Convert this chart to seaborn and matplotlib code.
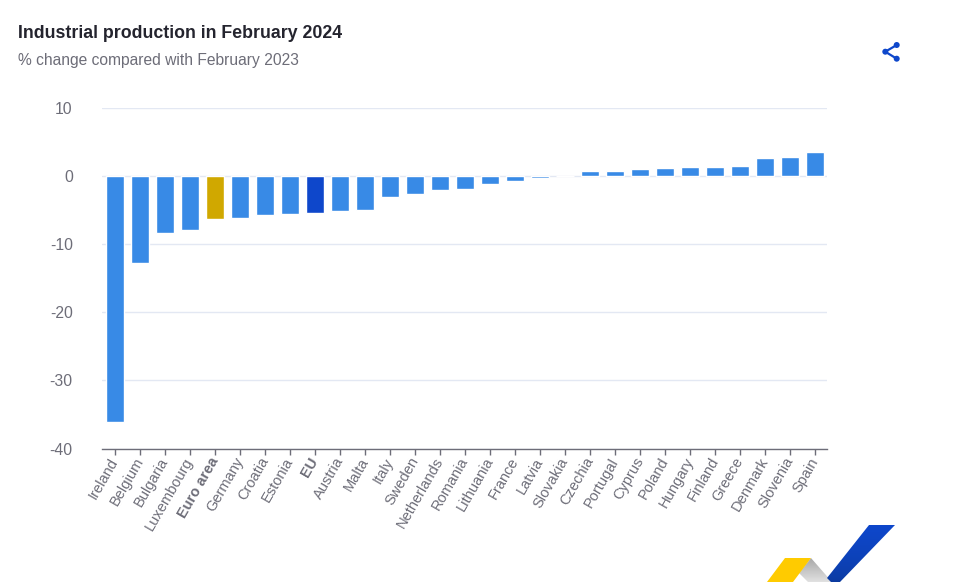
import numpy as np
import pandas as pd
import matplotlib
matplotlib.use("Agg")
import matplotlib.pyplot as plt
from matplotlib.patches import Polygon, Circle
from matplotlib.colors import LinearSegmentedColormap
from matplotlib.transforms import ScaledTranslation
import seaborn as sns

countries = ["Ireland", "Belgium", "Bulgaria", "Luxembourg", "Euro area", "Germany", "Croatia",
             "Estonia", "EU", "Austria", "Malta", "Italy", "Sweden", "Netherlands", "Romania",
             "Lithuania", "France", "Latvia", "Slovakia", "Czechia", "Portugal", "Cyprus", "Poland",
             "Hungary", "Finland", "Greece", "Denmark", "Slovenia", "Spain"]
values = [-36.1, -12.8, -8.4, -7.9, -6.4, -6.2, -5.7, -5.6, -5.4, -5.2, -5.1, -3.1, -2.7, -2.1,
          -2.0, -1.2, -0.8, -0.3, 0.0, 0.7, 0.7, 0.95, 1.15, 1.25, 1.3, 1.45, 2.65, 2.8, 3.5]
yticks = [10, 0, -10, -20, -30, -40]
ytick_labels = ["10", "0", "-10", "-20", "-30", "-40"]
title = "Industrial production in February 2024"
subtitle = "% change compared with February 2023"

BLUE, GOLD, DARK = "#388ae6", "#d0a800", "#0e47cb"
GREY, GRID = "#6d6d78", "#e3e8f3"

sns.set_theme(style="white")
plt.rcParams["font.family"] = ["Liberation Sans", "DejaVu Sans"]

W, H = 974, 582
fig = plt.figure(figsize=(W / 100, H / 100), dpi=100, facecolor="white")
L, R, T, B = 102, 827, 107.5, 448.5
ax = fig.add_axes([L / W, 1 - B / H, (R - L) / W, (B - T) / H])

df = pd.DataFrame({"country": countries, "value": values})
palette = {c: (GOLD if c == "Euro area" else DARK if c == "EU" else BLUE) for c in countries}
sns.barplot(data=df, x="country", y="value", hue="country", palette=palette, legend=False,
            order=countries, width=0.72, saturation=1, ax=ax, zorder=3)

ax.set_xlim(-0.5, len(countries) - 0.5)
ax.set_ylim(-40, 10)
ax.set_yticks(yticks)
ax.set_yticklabels(ytick_labels)
ax.set_xlabel("")
ax.set_ylabel("")
ax.yaxis.grid(True, color=GRID, lw=1)
ax.xaxis.grid(False)
ax.set_axisbelow(True)
for s in ["top", "right", "left"]:
    ax.spines[s].set_visible(False)
ax.spines["bottom"].set_color(GREY)
ax.spines["bottom"].set_linewidth(1)
ax.tick_params(axis="y", length=0, pad=21, labelsize=11.3, labelcolor=GREY)
ax.tick_params(axis="x", length=4, width=1, color=GREY, pad=0, labelsize=10.5, labelcolor=GREY, bottom=True)
ax.set_xticks(range(len(countries)))
ax.set_xticklabels(countries, rotation=60, ha="right", va="top", rotation_mode="anchor")
offset = ScaledTranslation(-5.5 / 100, -1 / 100, fig.dpi_scale_trans)
for t in ax.get_xticklabels():
    t.set_transform(t.get_transform() + offset)
    if t.get_text() in ("Euro area", "EU"):
        t.set_fontweight("bold")

fig.text(18 / W, 1 - 38.5 / H, title, fontsize=12.8, fontweight="bold", color="#24242e", va="baseline")
fig.text(18 / W, 1 - 65.5 / H, subtitle, fontsize=11.25, color=GREY, va="baseline")

# overlay in pixel coordinates: share icon and logo
ov = fig.add_axes([0, 0, 1, 1], zorder=5)
ov.set_xlim(0, W)
ov.set_ylim(H, 0)
ov.axis("off")
ov.patch.set_alpha(0)
ov.plot([896.7, 885.3, 896.7], [45, 51.7, 58.7], color=DARK, lw=1.6)
for cx, cy in [(896.7, 45), (885.3, 51.7), (896.7, 58.7)]:
    ov.add_patch(Circle((cx, cy), 3, color=DARK, lw=0))

ov.add_patch(Polygon([(785, 558), (811, 558), (793, 582), (767, 582)], color="#ffcb00", lw=0))
gray_img = ov.imshow(np.linspace(0.66, 0.88, 64).reshape(-1, 1), extent=(797, 832, 582, 558),
                     cmap="gray", vmin=0, vmax=1, aspect="auto")
gray_img.set_clip_path(Polygon([(811, 558), (799, 573), (808, 582), (832, 582)], transform=ov.transData))
cm = LinearSegmentedColormap.from_list("b", ["#0b3a9e", DARK])
blue_img = ov.imshow(np.linspace(1, 0, 64).reshape(-1, 1) ** 0.6, extent=(825, 896, 582, 525),
                     cmap=cm, aspect="auto")
blue_img.set_clip_path(Polygon([(869, 525), (895, 525), (840, 582), (831, 582), (827, 578)], transform=ov.transData))
ov.set_xlim(0, W)
ov.set_ylim(H, 0)

fig.savefig("out.png", dpi=100, facecolor="white")
